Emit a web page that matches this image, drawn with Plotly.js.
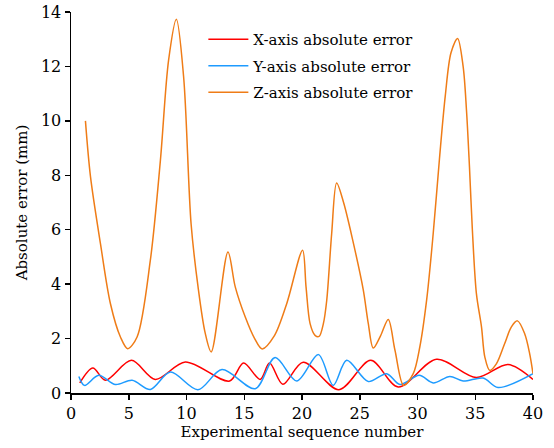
<!DOCTYPE html>
<html>
<head>
<meta charset="utf-8">
<script src="https://cdn.plot.ly/plotly-3.0.1.min.js"></script>
<style>html,body{margin:0;padding:0;background:#fff;}#chart{width:554px;height:448px;}</style>
</head>
<body>
<div id="chart"></div>
<script>
// X-axis absolute error (red)
var xErrX = [0.76, 1.89, 2.98, 5.23, 7.3, 9.9, 13.73, 14.94, 16.38, 17.19, 18.34, 20.1, 23.2, 25.95, 28.33, 31.65, 35.1, 37.84, 40.0];
var xErrY = [0.37, 0.92, 0.47, 1.2, 0.5, 1.14, 0.44, 1.1, 0.5, 1.1, 0.32, 1.13, 0.12, 1.2, 0.22, 1.24, 0.57, 1.05, 0.5];

// Y-axis absolute error (blue)
var yErrX = [0.68, 1.17, 2.4, 3.85, 5.29, 6.87, 8.6, 10.99, 13.07, 15.95, 17.67, 19.55, 21.42, 22.7, 23.87, 25.74, 27.33, 28.48, 30.15, 31.36, 32.8, 33.95, 35.68, 36.97, 40.0];
var yErrY = [0.61, 0.28, 0.65, 0.31, 0.47, 0.13, 0.77, 0.12, 0.86, 0.16, 1.3, 0.44, 1.41, 0.28, 1.2, 0.42, 0.71, 0.31, 0.65, 0.37, 0.61, 0.44, 0.55, 0.2, 0.71];

// Z-axis absolute error (orange)
var zErrX = [1.25, 1.69, 2.55, 3.41, 4.28, 4.91, 5.72, 6.87, 7.74, 8.45, 9.12, 9.75, 10.4, 11.0, 11.62, 12.14, 13.59, 14.22, 15.08, 15.9, 16.55, 17.6, 18.69, 20.05, 20.35, 20.7, 21.13, 21.48, 21.85, 22.14, 22.57, 23.0, 23.6, 24.4, 25.3, 25.74, 26.17, 26.8, 27.47, 28.05, 28.8, 29.63, 30.2, 30.79, 31.36, 31.9, 32.4, 32.9, 33.47, 33.95, 34.24, 34.5, 34.75, 35.1, 35.54, 35.83, 36.26, 36.84, 37.55, 38.13, 38.65, 39.28, 39.71, 40.0];
var zErrY = [10.0, 7.94, 5.49, 3.29, 2.06, 1.63, 2.06, 4.88, 8.55, 12.23, 13.73, 11.62, 6.2, 3.9, 2.2, 1.51, 5.18, 3.9, 2.8, 2.0, 1.62, 2.1, 3.3, 5.25, 3.9, 2.55, 2.12, 2.08, 2.55, 3.4, 5.86, 7.72, 7.0, 5.6, 3.8, 2.55, 1.65, 2.1, 2.7, 1.57, 0.28, 0.71, 1.69, 3.41, 5.86, 8.6, 10.9, 12.5, 13.03, 12.0, 10.4, 8.3, 6.0, 3.65, 2.43, 1.32, 0.83, 1.08, 1.82, 2.43, 2.65, 2.18, 1.45, 0.71];

var seriesNames = ['X-axis absolute error', 'Y-axis absolute error', 'Z-axis absolute error'];
var xTicks = [0, 5, 10, 15, 20, 25, 30, 35, 40];
var yTicks = [0, 2, 4, 6, 8, 10, 12, 14];

var font = 'DejaVu Serif';
function tr(x, y, name, color, grp) {
  return {x: x, y: y, name: name, type: 'scatter', mode: 'lines', legendgroup: grp,
    line: {color: color, width: 1.5, shape: 'spline', smoothing: 0.9}};
}
var data = [
  tr(xErrX, xErrY, seriesNames[0], '#FF0000', 'gx'),
  tr(yErrX, yErrY, seriesNames[1], '#1E9BFF', 'gy'),
  tr(zErrX, zErrY, seriesNames[2], '#EF7C17', 'gz')
];
var fs = 15;
var axisCommon = {showgrid: false, zeroline: false, showline: true, linecolor: '#000', linewidth: 1.5,
  ticks: 'outside', ticklen: 5, tickwidth: 1.5, tickcolor: '#000', mirror: false,
  tickfont: {family: font, size: 16, color: '#000'}};
var layout = {
  width: 554, height: 448,
  margin: {l: 70.5, r: 20.7, t: 11.5, b: 55.3},
  paper_bgcolor: '#fff', plot_bgcolor: '#fff',
  font: {family: font, size: fs, color: '#000'},
  showlegend: true,
  legend: {x: 0.2865, y: 0.971, xanchor: 'left', yanchor: 'top', bgcolor: 'rgba(0,0,0,0)',
    font: {family: font, size: fs, color: '#000'}, itemwidth: 40, tracegroupgap: 4},
  xaxis: Object.assign({}, axisCommon, {range: [0, 40], tickvals: xTicks, ticktext: xTicks.map(String),
    title: {text: 'Experimental sequence number', font: {family: font, size: fs, color: '#000'}, standoff: 3}}),
  yaxis: Object.assign({}, axisCommon, {range: [0, 14], tickvals: yTicks, ticktext: yTicks.map(String),
    title: {text: 'Absolute error (mm)', font: {family: font, size: fs, color: '#000'}, standoff: 9}})
};
Plotly.newPlot('chart', data, layout, {displayModeBar: false, staticPlot: true});
</script>
</body>
</html>
